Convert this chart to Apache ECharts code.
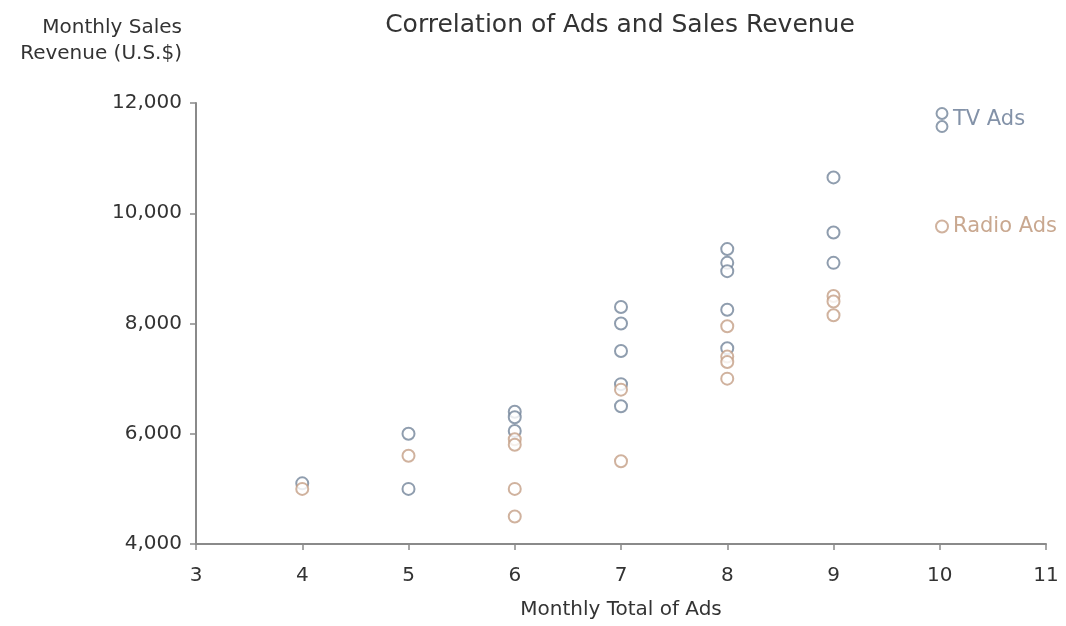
<!DOCTYPE html>
<html>
<head>
<meta charset="utf-8">
<script src="https://cdn.jsdelivr.net/npm/echarts@6/dist/echarts.min.js"></script>
<style>
  html, body { margin: 0; padding: 0; background: #fff; }
  #chart { width: 1066px; height: 626px; }
</style>
</head>
<body>
<div id="chart"></div>
<script>
// data
var tvX = [4, 5, 5, 6, 6, 6, 7, 7, 7, 7, 7, 8, 8, 8, 8, 8, 9, 9, 9];
var tvY = [5100, 6000, 5000, 6400, 6300, 6050, 8300, 8000, 7500, 6900, 6500, 9350, 9100, 8950, 8250, 7550, 10650, 9650, 9100];
var radioX = [4, 5, 6, 6, 6, 6, 7, 7, 8, 8, 8, 8, 9, 9, 9];
var radioY = [5000, 5600, 5900, 5800, 5000, 4500, 6800, 5500, 7950, 7400, 7300, 7000, 8500, 8400, 8150];
var xTicks = [3, 4, 5, 6, 7, 8, 9, 10, 11];
var yTicks = [4000, 6000, 8000, 10000, 12000];

(function() {
  var tvColor = '#73849a';
  var radioColor = '#c49f86';
  var ink = '#333';
  var axisColor = '#8a8a8a';
  var font = '"DejaVu Sans", Verdana, sans-serif';

  function pairs(xs, ys) {
    return xs.map(function(x, i) { return [x, ys[i]]; });
  }

  var chart = echarts.init(document.getElementById('chart'), null, { renderer: 'canvas' });
  chart.setOption({
    animation: false,
    backgroundColor: '#fff',
    textStyle: { fontFamily: font },
    title: {
      text: 'Correlation of Ads and Sales Revenue',
      left: 615,
      textAlign: 'center',
      top: 8,
      textStyle: { fontSize: 25, fontWeight: 'normal', color: ink, fontFamily: font }
    },
    graphic: [{
      type: 'text',
      x: 182,
      y: 15,
      style: {
        text: 'Monthly Sales\nRevenue (U.S.$)',
        font: '20px ' + font,
        fill: ink,
        align: 'right',
        verticalAlign: 'top',
        lineHeight: 26
      }
    }],
    legend: {
      orient: 'vertical',
      left: 930,
      top: 102,
      itemGap: 83,
      itemWidth: 12,
      itemHeight: 24,
      textStyle: { fontSize: 21, fontFamily: font },
      data: [
        {
          name: 'TV Ads',
          icon: 'path://M1,6a5,5 0 1,0 10,0a5,5 0 1,0 -10,0M1,18a5,5 0 1,0 10,0a5,5 0 1,0 -10,0',
          itemStyle: { color: 'rgba(0,0,0,0)', borderColor: tvColor, borderWidth: 2 },
          textStyle: { color: '#8392a8' }
        },
        {
          name: 'Radio Ads',
          icon: 'path://M1,6a5,5 0 1,0 10,0a5,5 0 1,0 -10,0',
          itemStyle: { color: 'rgba(0,0,0,0)', borderColor: radioColor, borderWidth: 2 },
          textStyle: { color: '#c9a890' }
        }
      ]
    },
    grid: { left: 196, right: 20, top: 103, bottom: 82, outerBoundsMode: 'none' },
    xAxis: {
      type: 'value',
      min: xTicks[0],
      max: xTicks[xTicks.length - 1],
      interval: 1,
      name: 'Monthly Total of Ads',
      nameLocation: 'middle',
      nameGap: 56,
      nameTextStyle: { fontSize: 20, color: ink },
      axisLine: { show: true, lineStyle: { color: axisColor, width: 2 } },
      axisTick: { show: true, length: 6, lineStyle: { color: axisColor, width: 1.5 } },
      axisLabel: { fontSize: 20, color: ink, margin: 22 },
      splitLine: { show: false }
    },
    yAxis: {
      type: 'value',
      min: yTicks[0],
      max: yTicks[yTicks.length - 1],
      interval: 2000,
      axisLine: { show: true, lineStyle: { color: axisColor, width: 2 } },
      axisTick: { show: true, length: 6, lineStyle: { color: axisColor, width: 1.5 } },
      axisLabel: {
        fontSize: 20, color: ink, margin: 14,
        formatter: function(v) { return v.toLocaleString('en-US'); }
      },
      splitLine: { show: false }
    },
    series: [
      {
        name: 'TV Ads',
        type: 'scatter',
        symbol: 'emptyCircle',
        symbolSize: 12,
        itemStyle: { color: tvColor, borderColor: tvColor, borderWidth: 2 },
        data: pairs(tvX, tvY)
      },
      {
        name: 'Radio Ads',
        type: 'scatter',
        symbol: 'emptyCircle',
        symbolSize: 12,
        itemStyle: { color: radioColor, borderColor: radioColor, borderWidth: 2 },
        data: pairs(radioX, radioY)
      }
    ]
  });
})();
</script>
</body>
</html>
